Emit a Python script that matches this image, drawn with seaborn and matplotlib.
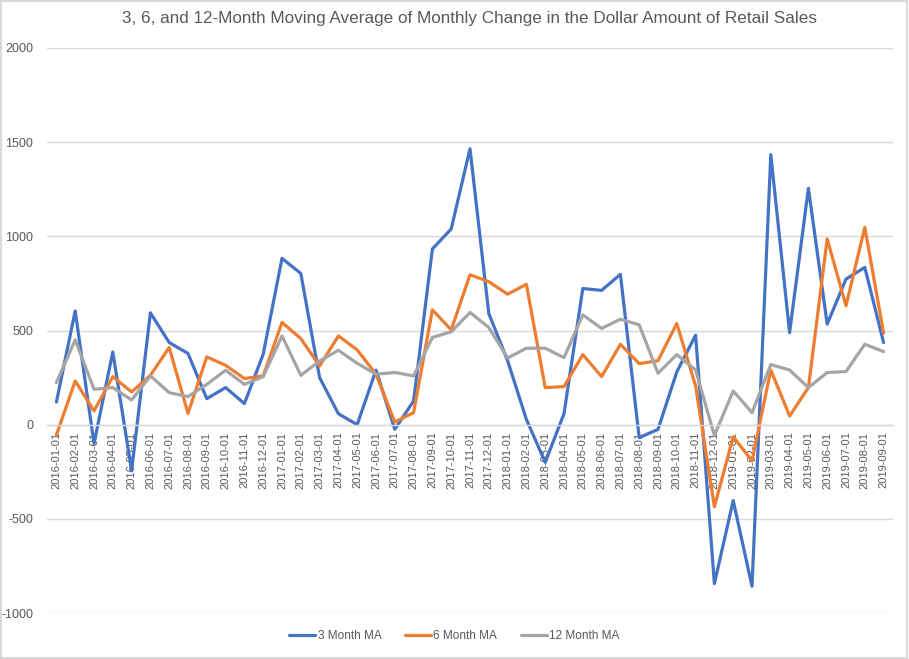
import matplotlib
matplotlib.use("Agg")
import matplotlib.pyplot as plt
from matplotlib.patches import Rectangle
import seaborn as sns
import pandas as pd
import numpy as np

# months 2016-01 .. 2019-09
months = pd.date_range("2016-01-01", "2019-09-01", freq="MS").strftime("%Y-%m-%d").tolist()

ma3 = [120, 604, -100, 386, -245, 594, 436, 378, 138, 197, 112, 374,
       883, 803, 250, 58, 0, 290, -25, 126, 933, 1039, 1465, 590,
       340, 28, -200, 58, 723, 713, 798, -69, -25, 280, 475, -844,
       -403, -858, 1434, 489, 1255, 534, 773, 835, 436]
ma6 = [-55, 232, 73, 255, 174, 262, 410, 60, 360, 315, 245, 259,
       543, 457, 312, 471, 397, 268, 14, 64, 610, 503, 796, 759,
       693, 745, 197, 202, 372, 255, 427, 324, 340, 537, 205, -436,
       -64, -192, 290, 46, 197, 986, 631, 1048, 486]
ma12 = [223, 450, 188, 197, 131, 259, 170, 149, 214, 289, 214, 255,
        471, 262, 338, 395, 326, 268, 277, 259, 463, 493, 596, 516,
        354, 406, 406, 356, 583, 511, 560, 530, 273, 372, 290, -57,
        179, 64, 319, 290, 197, 277, 282, 427, 388]

series_names = ["3 Month MA", "6 Month MA", "12 Month MA"]
colors = ["#4472C4", "#ED7D31", "#A5A5A5"]

df = pd.DataFrame({"idx": np.arange(len(months)), "month": months,
                   series_names[0]: ma3, series_names[1]: ma6, series_names[2]: ma12})
long_df = df.melt(id_vars=["idx", "month"], value_vars=series_names,
                  var_name="series", value_name="value")

sns.set_style("white")
plt.rcParams["font.family"] = ["Liberation Sans", "DejaVu Sans"]
plt.rcParams["axes.unicode_minus"] = False

fig = plt.figure(figsize=(9.09, 6.59), dpi=100)
ax = fig.add_axes([47 / 909, 1 - 613 / 659, (893 - 47) / 909, (613 - 48) / 659])

sns.lineplot(data=long_df, x="idx", y="value", hue="series", hue_order=series_names,
             palette=colors, linewidth=2.3, ax=ax, legend=True)

ax.set_xlim(-0.5, len(months) - 0.5)
ax.set_ylim(-1000, 2000)
ax.set_yticks(np.arange(-1000, 2001, 500))
ax.yaxis.grid(True, color="#D9D9D9", linewidth=1)
ax.set_axisbelow(True)
ax.set_xlabel("")
ax.set_ylabel("")

for s in ["top", "right", "left"]:
    ax.spines[s].set_visible(False)
ax.spines["bottom"].set_position(("data", 0))
ax.spines["bottom"].set_color("#D9D9D9")
ax.spines["bottom"].set_linewidth(1)

ax.set_xticks(np.arange(len(months)))
ax.set_xticklabels(months, rotation=90, fontsize=8, color="#595959")
ax.set_xticks(np.arange(len(months) + 1) - 0.5, minor=True)
ax.tick_params(axis="x", which="major", length=0, pad=5)
ax.tick_params(axis="x", which="minor", length=5, color="#D9D9D9", width=1)
ax.tick_params(axis="y", length=0, labelsize=9, labelcolor="#595959", pad=10)

ax.set_title("3, 6, and 12-Month Moving Average of Monthly Change in the Dollar Amount of Retail Sales",
             fontsize=12.3, color="#595959", pad=18)

handles, labels = ax.get_legend_handles_labels()
ax.legend(handles, labels, loc="center", bbox_to_anchor=(0.5, 1 - 636 / 659),
          bbox_transform=fig.transFigure, ncol=3, frameon=False, fontsize=8.5,
          labelcolor="#595959", handlelength=2.2, columnspacing=2.0, handletextpad=0.2)

fig.patches.append(Rectangle((0.001, 0.001), 0.997, 0.997, transform=fig.transFigure,
                             fill=False, edgecolor="#D9D9D9", linewidth=1.5))

fig.savefig("out.png", dpi=100)
